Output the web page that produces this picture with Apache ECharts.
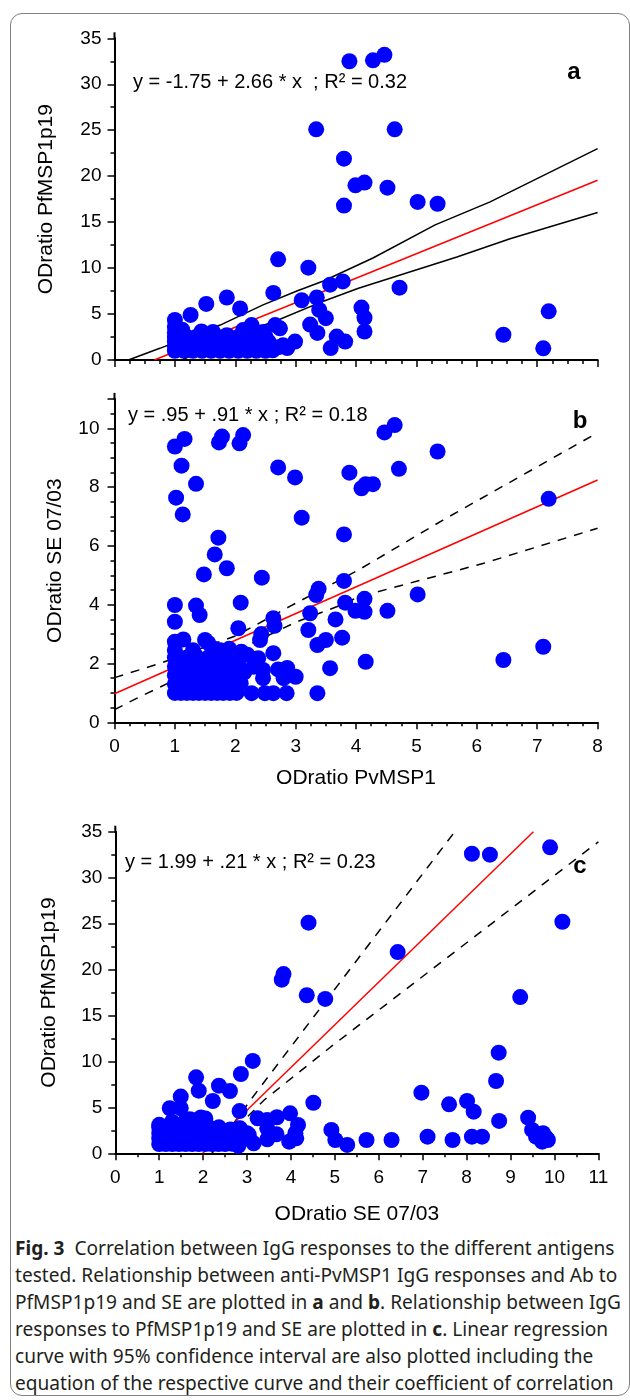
<!DOCTYPE html>
<html><head><meta charset="utf-8">
<script src="https://cdn.jsdelivr.net/npm/echarts@6/dist/echarts.min.js"></script>
<style>
html,body{margin:0;padding:0;background:#fff;}
#frame{position:absolute;left:10px;top:13px;width:620px;height:1383px;border:1.5px solid #808080;border-radius:12px;box-sizing:border-box;}
#chart{position:absolute;left:0;top:0;width:630px;height:1232px;}
#caption{position:absolute;left:15px;top:1235px;font-family:"Noto Sans";font-size:19.1px;line-height:27px;color:#231f20;white-space:nowrap;}
#caption b{font-weight:700;}
</style></head>
<body>
<div id="frame"></div>
<div id="chart"></div>
<div id="caption"><b>Fig. 3</b>&nbsp; Correlation between IgG responses to the different antigens<br>tested. Relationship between anti-PvMSP1 IgG responses and Ab to<br>PfMSP1p19 and SE are plotted in <b>a</b> and <b>b</b>. Relationship between IgG<br>responses to PfMSP1p19 and SE are plotted in <b>c</b>. Linear regression<br>curve with 95% confidence interval are also plotted including the<br>equation of the respective curve and their coefficient of correlation</div>
<script>
// ---------- Panel a: PvMSP1 (x) vs PfMSP1p19 (y) ----------
const aPoints = [[3.89,32.5],[4.28,32.6],[4.47,33.2],[3.34,25.1],[4.64,25.1],[3.80,21.9],[3.99,19.0],[4.14,19.3],[4.52,18.75],[3.80,16.8],[5.02,17.2],[5.35,17.0],
[2.71,10.95],[3.21,10.05],[3.57,8.2],[3.78,8.55],[4.72,7.87],[2.63,7.3],[1.86,6.8],[1.52,6.1],[2.08,5.6],[3.10,6.5],[3.35,6.8],[3.39,5.45],[3.50,4.55],[4.09,5.7],[4.14,4.6],[4.14,3.1],[3.24,3.85],[3.36,2.95],[3.68,2.55],[3.58,1.3],[3.82,2.0],[6.44,2.75],[7.10,1.27],[7.19,5.3],[2.66,3.8],[2.74,3.45],[1.26,4.9],[1.0,4.35],[1.0,3.6],[2.99,2.0],[2.86,1.3],[2.79,1.6],[2.27,3.8],[2.13,3.26],[2.46,3.05],[1.44,3.1],[1.63,3.05],[1.86,2.7]];
const aCluster = [[1.0,1.0],[1.15,1.0],[1.3,1.0],[1.45,1.0],[1.6,1.0],[1.75,1.0],[1.9,1.0],[2.05,1.0],[2.2,1.0],[2.35,1.0],[2.5,1.0],[2.62,1.05],
[1.0,1.5],[1.1,1.5],[1.25,1.5],[1.4,1.5],[1.55,1.5],[1.7,1.5],[1.85,1.5],[2.0,1.5],[2.15,1.5],[2.3,1.5],[2.45,1.5],[2.6,1.5],[2.72,1.4],
[1.0,2.0],[1.12,2.0],[1.3,2.0],[1.48,2.0],[1.65,2.0],[1.8,2.0],[1.95,2.0],[2.1,2.0],[2.25,2.0],[2.4,2.0],[2.55,2.0],
[1.0,2.5],[1.2,2.5],[1.35,2.5],[1.55,2.5],[1.7,2.5],[1.9,2.5],[2.05,2.5],[2.2,2.5],[2.35,2.5],[2.5,2.5],[1.0,3.0],[1.12,3.3]];
const aFit = [[0.66,0],[8,19.55]];
const aUpper = [[0.23,0],[0.75,1.27],[1.75,3.8],[2.46,6.0],[3.02,7.5],[3.46,8.6],[4.28,11.1],[5.31,14.7],[6.22,17.2],[8,23.0]];
const aLower = [[1.12,0],[1.75,2.1],[2.69,4.3],[3.46,6.4],[4.04,7.8],[5.67,11.2],[6.55,13.2],[8,16.05]];
const aEquation = 'y = -1.75 + 2.66 * x  ; R\u00b2 = 0.32';

// ---------- Panel b: PvMSP1 (x) vs SE 07/03 (y) ----------
const bPoints = [[1.0,9.38],[1.16,9.64],[1.11,8.73],[1.35,8.11],[1.02,7.64],[1.13,7.07],[1.73,9.52],[1.78,9.72],[2.07,9.49],[2.13,9.77],[2.71,8.67],[2.99,8.33],[3.10,6.96],[4.47,9.86],[4.64,10.11],[5.35,9.21],[4.71,8.62],[3.89,8.49],[4.09,7.96],[4.16,8.1],[4.28,8.1],[3.80,6.39],[7.19,7.6],[1.72,6.28],[1.66,5.71],[1.86,5.24],[1.48,5.03],[2.44,4.92],[3.80,4.81],[3.38,4.54],[3.34,4.33],[5.02,4.35],[3.82,4.07],[4.14,4.2],[3.99,3.79],[4.14,3.76],[4.52,3.79],[3.24,3.71],[3.66,3.5],[3.21,3.14],[3.36,2.63],[3.50,2.8],[3.77,2.88],[3.57,1.84],[4.16,2.06],[3.36,0.99],[6.44,2.12],[7.10,2.57],
[1.0,3.99],[1.0,3.42],[1.35,3.97],[1.41,3.65],[2.09,4.07],[2.05,3.2],[2.63,3.54],[2.65,3.28],[2.43,3.0],[2.41,2.8],[2.63,2.35],[2.09,1.33],[2.27,0.99],[2.3,1.89],[2.38,2.18],[2.46,1.78],[2.46,1.5],[2.49,0.99],[2.63,0.99],[2.71,1.8],[2.86,1.85],[3.0,1.55],[2.8,1.5],[2.85,0.99]];
const bCluster = [[1.0,1.0],[1.1,1.0],[1.2,1.0],[1.3,1.0],[1.4,1.0],[1.5,1.0],[1.6,1.0],[1.7,1.0],[1.8,1.0],[1.91,1.0],[2.02,1.0],
[1.0,1.3],[1.15,1.3],[1.3,1.3],[1.45,1.3],[1.6,1.3],[1.75,1.3],[1.9,1.3],[2.05,1.35],
[1.0,1.6],[1.12,1.6],[1.25,1.6],[1.4,1.6],[1.55,1.6],[1.7,1.6],[1.85,1.6],[2.0,1.65],[2.15,1.7],
[1.0,1.9],[1.15,1.9],[1.3,1.9],[1.45,1.9],[1.6,1.9],[1.75,1.9],[1.9,1.9],[2.05,1.95],
[1.0,2.2],[1.2,2.2],[1.35,2.25],[1.55,2.2],[1.7,2.2],[1.85,2.2],[2.0,2.25],[2.2,2.3],
[1.0,2.45],[1.3,2.45],[1.55,2.7],[1.65,2.5],[1.9,2.5],[2.1,2.4],[1.0,2.74],[1.14,2.82],[1.5,2.8],[1.75,2.45]];
const bFit = [[0,0.97],[8,8.24]];
const bUpper = [[0,1.52],[0.75,2.0],[2.02,2.95],[2.91,3.95],[4.04,5.18],[5.44,6.88],[8,9.85]];
const bLower = [[0,0.43],[0.42,0.87],[3.02,3.42],[3.68,3.93],[4.05,4.27],[6.1,5.4],[8,6.6]];
const bEquation = 'y = .95 + .91 * x ; R\u00b2 = 0.18';

// ---------- Panel c: SE 07/03 (x) vs PfMSP1p19 (y) ----------
const cPoints = [[8.12,32.6],[8.53,32.5],[9.9,33.3],[10.18,25.2],[4.4,25.1],[6.43,21.9],[3.79,18.9],[3.83,19.5],[4.36,17.2],[4.78,16.8],[9.22,17.0],[8.73,10.95],[8.67,7.87],[3.13,10.05],[2.86,8.63],[1.84,8.27],[1.90,6.82],[2.36,7.36],[2.61,6.78],[2.22,5.69],[1.49,6.17],[1.24,4.9],[1.49,4.9],[2.83,4.6],[4.51,5.5],[6.97,6.6],[7.60,5.33],[8.01,5.69],[8.16,4.53],[8.74,3.52],[9.40,3.88],[9.49,2.54],[9.58,1.81],[9.72,1.27],[9.74,2.18],[9.81,1.7],[9.85,1.45],[7.11,1.81],[7.68,1.45],[8.12,1.81],[8.35,1.81],[6.29,1.45],[5.72,1.45],[5.28,0.91],[4.92,2.54],[5.01,1.45],[3.24,3.81],[3.46,3.63],[3.68,3.92],[3.98,4.35],[4.16,3.08],[4.10,2.18],[3.96,1.27],[4.12,1.63],[3.67,2.07],[3.46,1.52],[3.15,1.09],[3.46,2.72],[2.80,0.8],[3.0,2.18],[2.84,2.72]];
const cCluster = [[1.0,1.0],[1.15,1.0],[1.3,1.0],[1.45,1.0],[1.6,1.0],[1.75,1.0],[1.9,1.0],[2.05,1.0],[2.2,1.0],[2.35,1.0],[2.5,1.0],[2.65,1.05],
[1.0,1.6],[1.1,1.6],[1.25,1.6],[1.4,1.6],[1.55,1.6],[1.7,1.6],[1.85,1.6],[2.0,1.6],[2.15,1.6],[2.3,1.6],[2.45,1.6],[2.6,1.6],[2.75,1.5],[2.92,1.55],
[1.0,2.2],[1.15,2.2],[1.3,2.2],[1.45,2.2],[1.6,2.2],[1.75,2.2],[1.9,2.2],[2.05,2.2],[2.2,2.2],[2.35,2.2],[2.5,2.2],[2.65,2.1],[2.8,2.2],
[1.0,2.8],[1.12,2.8],[1.3,2.8],[1.45,2.8],[1.6,2.8],[1.75,2.8],[1.9,2.8],[2.05,2.8],[2.2,2.7],[2.36,2.83],[2.62,2.6],[2.81,2.7],
[1.0,3.1],[1.29,3.44],[1.55,3.3],[1.7,3.7],[1.82,3.6],[1.95,3.9],[2.05,3.8],[3.04,2.0]];
const cFit = [[1.99,0],[9.52,35]];
const cUpper = [[2.2,0],[3.08,5.8],[4.0,11.6],[7.73,35]];
const cLower = [[2.2,0.1],[3.39,5.8],[3.77,7.25],[4.91,11.6],[11,33.9]];
const cEquation = 'y = 1.99 + .21 * x ; R\u00b2 = 0.23';

const panelLetters = ['a','b','c'];
const titlePf = 'ODratio PfMSP1p19';
const titleSE = 'ODratio SE 07/03';
const titlePv = 'ODratio PvMSP1';

const FONT = '"Liberation Sans", Arial, sans-serif';
const chart = echarts.init(document.getElementById('chart'), null, {renderer:'canvas'});

function xAx(grid, max, minorSplit, showLabels, name, nameGap){
  return {gridIndex:grid, type:'value', min:0, max:max, interval:1,
    axisLine:{lineStyle:{color:'#000',width:2}},
    axisTick:{length:7, lineStyle:{color:'#000',width:1.5}},
    minorTick:{show:true, splitNumber:minorSplit, length:4, lineStyle:{color:'#000',width:1.5}},
    splitLine:{show:false}, minorSplitLine:{show:false},
    axisLabel:{show:showLabels, color:'#000', fontFamily:FONT, fontSize:19, margin:15},
    name:name, nameLocation:'middle', nameGap:nameGap,
    nameTextStyle:{color:'#000', fontFamily:FONT, fontSize:21}};
}
function yAx(grid, max, interval, minorSplit, name, nameGap, margin, hideMax){
  return {gridIndex:grid, type:'value', min:0, max:max, interval:interval,
    axisLine:{show:true, lineStyle:{color:'#000',width:2}},
    axisTick:{show:true, length:7, lineStyle:{color:'#000',width:1.5}},
    minorTick:{show:true, splitNumber:minorSplit, length:4, lineStyle:{color:'#000',width:1.5}},
    splitLine:{show:false}, minorSplitLine:{show:false},
    axisLabel:{color:'#000', fontFamily:FONT, fontSize:19, margin:margin, showMaxLabel: hideMax ? false : null},
    name:name, nameLocation:'middle', nameRotate:90, nameGap:nameGap,
    nameTextStyle:{color:'#000', fontFamily:FONT, fontSize:21}};
}
function scatter(i, pts, cl){
  return {type:'scatter', xAxisIndex:i, yAxisIndex:i, data:cl.concat(pts), symbol:'circle', symbolSize:16,
    itemStyle:{color:'#0000ff', opacity:1}, z:5, silent:true, animation:false};
}
function line(i, d, color, dashed){
  return {type:'line', xAxisIndex:i, yAxisIndex:i, data:d, showSymbol:false, symbol:'none', z:3, silent:true,
    lineStyle:{color:color, width:1.5, type: dashed ? [9,8] : 'solid'}, animation:false};
}
function txt(x, y, s, font, align){
  return {type:'text', x:x, y:y, silent:true, z:10,
    style:{text:s, font:font, fill:'#000', textAlign:align||'left', textVerticalAlign:'middle'}};
}

const yMax = [35, 11, 35];
chart.setOption({
  animation:false,
  grid:[
    {left:114.5, top:38.3, width:483.1, height:321.7},
    {left:114.5, top:398.9, width:483.1, height:323.4},
    {left:115.3, top:831.7, width:483.1, height:321.6}
  ],
  xAxis:[ xAx(0, 8, 4, false, '', 0), xAx(1, 8, 4, true, titlePv, 45), xAx(2, 11, 2, true, titleSE, 50) ],
  yAxis:[ yAx(0, yMax[0], 5, 2, titlePf, 58, 13), yAx(1, yMax[1], 2, 4, titleSE, 49, 15, true), yAx(2, yMax[2], 5, 2, titlePf, 56, 13) ],
  series:[
    line(0, aUpper, '#000', false), line(0, aLower, '#000', false), line(0, aFit, '#ff0000', false), scatter(0, aPoints, aCluster),
    line(1, bUpper, '#000', true), line(1, bLower, '#000', true), line(1, bFit, '#ff0000', false), scatter(1, bPoints, bCluster),
    line(2, cUpper, '#000', true), line(2, cLower, '#000', true), line(2, cFit, '#ff0000', false), scatter(2, cPoints, cCluster)
  ],
  graphic:[
    txt(133, 82, aEquation, '20px ' + FONT),
    txt(128, 415, bEquation, '20px ' + FONT),
    txt(125, 862, cEquation, '20px ' + FONT),
    txt(574, 72, panelLetters[0], 'bold 24px ' + FONT, 'center'),
    txt(580, 421, panelLetters[1], 'bold 24px ' + FONT, 'center'),
    txt(580, 866, panelLetters[2], 'bold 24px ' + FONT, 'center')
  ]
});

// extend each y axis line a few pixels above its top tick, as in the original plot
const ext = [];
for (let i = 0; i < 3; i++) {
  const p = chart.convertToPixel({gridIndex:i}, [0, yMax[i]]);
  ext.push({type:'line', silent:true, z:10, shape:{x1:p[0], y1:p[1]+1, x2:p[0], y2:p[1]-6},
    style:{stroke:'#000', lineWidth:2}});
}
chart.setOption({graphic: ext.map((g, k) => Object.assign({id:'ext'+k}, g))});
</script>
</body></html>
